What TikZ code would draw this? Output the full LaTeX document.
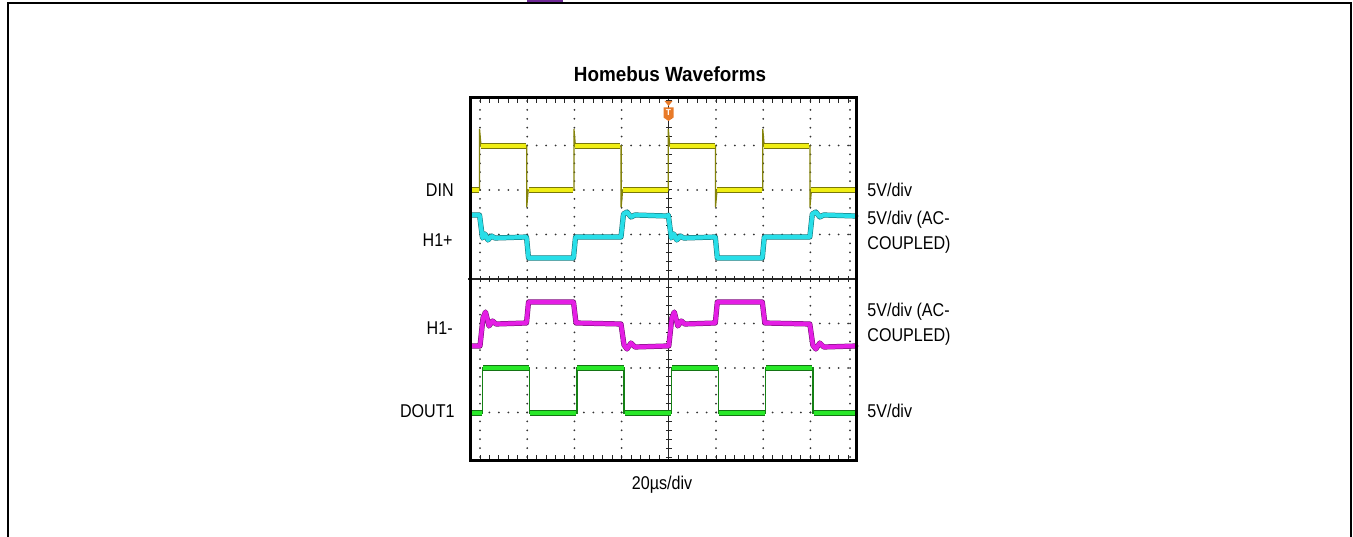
\documentclass[tikz,border=0pt]{standalone}
\usepackage{fontspec}
\setmainfont{Liberation Sans}
\newfontfamily\narrowfont[FakeStretch=0.87]{Liberation Sans}
\newfontfamily\titlefont[FakeStretch=0.92]{Liberation Sans Bold}

\definecolor{dinYellow}{RGB}{240,238,20}
\definecolor{hpCyan}{RGB}{40,222,232}
\definecolor{hmMagenta}{RGB}{228,30,228}
\definecolor{doutGreen}{RGB}{40,232,40}
\definecolor{trigOrange}{RGB}{232,122,40}
\definecolor{linkPurple}{RGB}{110,40,150}

\tikzset{every picture/.style={line width=0.75pt}}
\tikzset{
  gdot/.style={fill=black!80},
  axisline/.style={draw=black!85,line width=1.2},
  band/.style={draw=#1,line width=4.2,line cap=butt,preaction={draw=#1!50!black,line width=5.2,line cap=butt}},
  edgeline/.style={draw=#1!55!black,line width=1.3},
  thicktrace/.style={draw=#1,line width=4.2,line join=round,preaction={draw=#1!50!black,line width=5.2,line join=round}},
  lbl/.style={font=\narrowfont\fontsize{18.5}{25}\selectfont,inner sep=0pt}
}

\begin{document}
\begin{tikzpicture}[x=1pt,y=1pt,yscale=-1,xscale=1]
\useasboundingbox (0,0) rectangle (1353,537);

% page frame and link
\draw [line width=2.5] (8,545) -- (8,3) -- (1351,3) -- (1351,545);
\draw [linkPurple,line width=1.6] (527,0.8) -- (563,0.8);

% title
\node [font=\titlefont\fontsize{20.5}{24}\selectfont,inner sep=0pt,anchor=base] (title) at (670,81.5) {Homebus Waveforms};

% graticule dots
\foreach \gx in {480,527.2,574.4,621.6,716,763.2,810.4,850}
  \foreach \m in {0,...,40}
    \fill [gdot] (\gx,{101+8.9*\m}) circle (1);
\foreach \gy in {145.5,190,234.5,323.5,368,412.5}
  \foreach \m in {0,...,39}
    \fill [gdot] ({480+9.44*\m},\gy) circle (1);

% edge ticks
\foreach \m in {0,...,39} {
  \draw [black!85,line width=1] ({480+9.44*\m},98) -- ++(0,5);
  \draw [black!85,line width=1] ({480+9.44*\m},460) -- ++(0,-5);
}

% center axes
\draw [axisline] (668.8,97) -- (668.8,461);
\draw [axisline] (468,279) -- (857,279);
\foreach \m in {0,...,40} {
  \draw [axisline,line width=1] (665.8,{101+8.9*\m}) -- ++(6,0);
  \draw [axisline,line width=1] ({480+9.44*\m},276) -- ++(0,6);
}

% DIN
\draw [edgeline=dinYellow] (471,190) \foreach \p in {0,...,3}{ -- ({479.5+94.4*\p},190) -- ({479.5+94.4*\p},129) -- ({481+94.4*\p},146) -- ({526.7+94.4*\p},146) -- ({526.7+94.4*\p},207) -- ({528.2+94.4*\p},190)} -- (855,190);
\draw [band=dinYellow] (471,190) -- (479,190);
\foreach \p in {0,...,3}
  \draw [band=dinYellow] ({481+94.4*\p},146) -- ({526+94.4*\p},146);
\foreach \p in {0,...,2}
  \draw [band=dinYellow] ({528.5+94.4*\p},190) -- ({479+94.4*(\p+1)},190);
\draw [band=dinYellow] (811,190) -- (855,190);

% H1+
\draw [thicktrace=hpCyan] (471,215) \foreach \o in {0,188.8}{ -- ({479.5+\o},215) -- ({482.5+\o},238) -- ({485+\o},234) -- ({488+\o},240) -- ({491.5+\o},236) -- ({495+\o},238) -- ({526.5+\o},237) -- ({528.5+\o},258) -- ({573.5+\o},258) -- ({575.5+\o},237) -- ({621+\o},237) -- ({623.5+\o},214) -- ({627+\o},212) -- ({631+\o},217) -- ({635+\o},215) -- ({667+\o},216)} -- (855,216);

% H1-
\draw [thicktrace=hmMagenta] (471,346) \foreach \o in {0,188.8}{ -- ({480+\o},346) -- ({483+\o},318) -- ({485.5+\o},312) -- ({489+\o},326) -- ({492.5+\o},321) -- ({496+\o},324) -- ({526.5+\o},323) -- ({528.5+\o},302) -- ({573.5+\o},302) -- ({576+\o},323) -- ({621+\o},324) -- ({624+\o},345) -- ({627+\o},349) -- ({631+\o},343) -- ({635+\o},347) -- ({667+\o},346)} -- (855,346);

% DOUT1
\draw [edgeline=doutGreen] (471,413) \foreach \p in {0,...,3}{ -- ({482.5+94.4*\p},413) -- ({482.5+94.4*\p},368) -- ({529.7+94.4*\p},368) -- ({529.7+94.4*\p},413)} -- (855,413);
\draw [band=doutGreen] (471,413) -- (482,413);
\foreach \p in {0,...,3}
  \draw [band=doutGreen] ({483+94.4*\p},368) -- ({529.2+94.4*\p},368);
\foreach \p in {0,...,2}
  \draw [band=doutGreen] ({530.2+94.4*\p},413) -- ({482+94.4*(\p+1)},413);
\draw [band=doutGreen] (813.5,413) -- (855,413);

% screen border
\draw [line width=3] (470,98) rectangle (856.5,460);

% trigger marker
\fill [trigOrange] (664.5,101) -- (672.5,101) -- (668.5,106) -- cycle;
\fill [trigOrange] (663.5,107.5) -- (673.5,107.5) -- (673.5,117.5) -- (668.5,121) -- (663.5,117.5) -- cycle;
\node [font=\bfseries\fontsize{8.5}{8.5}\selectfont,text=white,inner sep=0pt] (trig) at (668.5,113) {T};

% channel names
\node [lbl,anchor=base east] (din) at (454,197) {DIN};
\node [lbl,anchor=base east] (hplus) at (453,246.5) {H1+};
\node [lbl,anchor=base east] (hminus) at (453,334.5) {H1-};
\node [lbl,anchor=base east] (dout) at (455,417.5) {DOUT1};

% scales
\node [lbl,anchor=base west] (dinscale) at (867,197) {5V/div};
\node [lbl,anchor=base west,align=left] (hpscale) at (867,249.5) {5V/div (AC-\\COUPLED)};
\node [lbl,anchor=base west,align=left] (hmscale) at (867,341.5) {5V/div (AC-\\COUPLED)};
\node [lbl,anchor=base west] (doutscale) at (867,417.5) {5V/div};
\node [lbl,anchor=base] (timescale) at (662,489.5) {20µs/div};

\end{tikzpicture}
\end{document}
